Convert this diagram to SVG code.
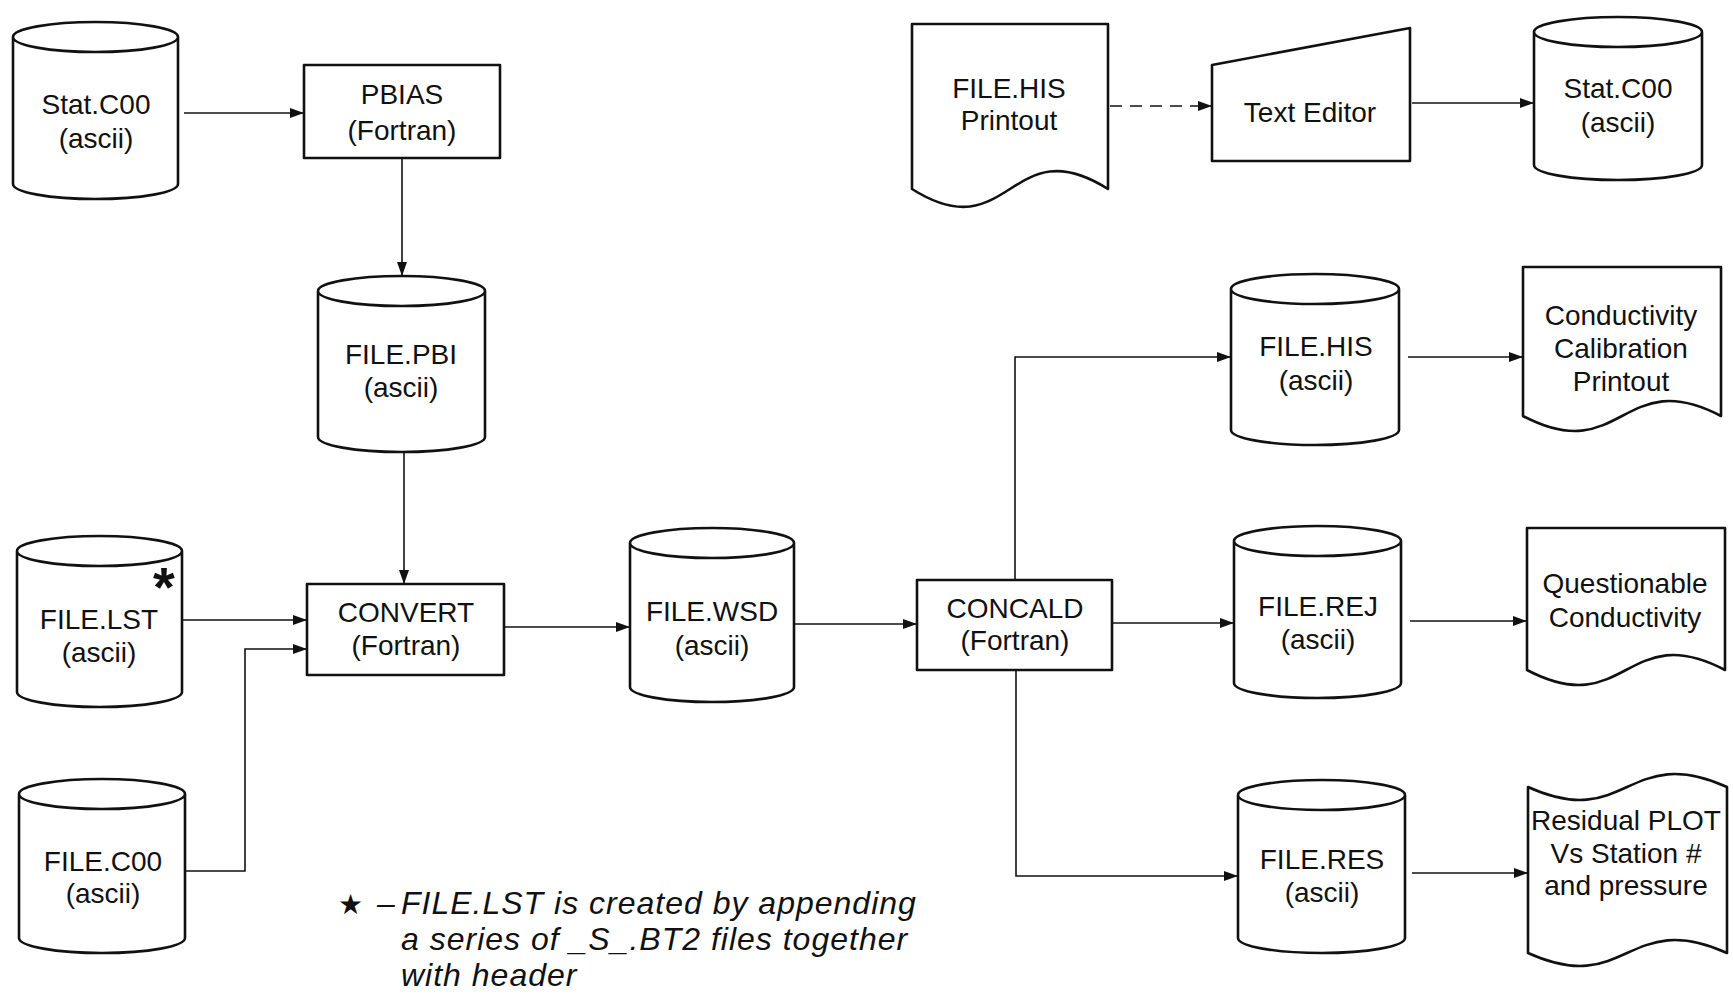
<svg xmlns="http://www.w3.org/2000/svg" width="1733" height="997" viewBox="0 0 1733 997">
  <style>
    .shape { fill: #fff; stroke: #111; stroke-width: 2.6; stroke-linejoin: round; }
    .edge { fill: none; stroke: #111; stroke-width: 1.6; }
    .dash { stroke-dasharray: 12 8; }
    .lbl { font-family: "Liberation Sans", Arial, sans-serif; font-size: 28px; fill: #111; text-anchor: middle; }
    .note { font-family: "Liberation Sans", Arial, sans-serif; font-size: 32px; font-style: italic; letter-spacing: 1px; fill: #111; }
  </style>
  <defs>
    <marker id="arrow" viewBox="0 0 14 10" refX="14" refY="5" markerWidth="14" markerHeight="10" markerUnits="userSpaceOnUse" orient="auto">
      <path d="M0,0 L14,5 L0,10 Z" fill="#111"/>
    </marker>
  </defs>
  <rect width="1733" height="997" fill="#fff"/>

  <!-- connectors -->
  <g id="connectors">
    <path class="edge" d="M184,113 H304" marker-end="url(#arrow)"/>
    <path class="edge" d="M402,158 V276" marker-end="url(#arrow)"/>
    <path class="edge" d="M404,452 V584" marker-end="url(#arrow)"/>
    <path class="edge" d="M182,620 H307" marker-end="url(#arrow)"/>
    <path class="edge" d="M185,871 H245 V649 H307" marker-end="url(#arrow)"/>
    <path class="edge" d="M504,627 H630" marker-end="url(#arrow)"/>
    <path class="edge" d="M794,624 H917" marker-end="url(#arrow)"/>
    <path class="edge" d="M1015,580 V357 H1231" marker-end="url(#arrow)"/>
    <path class="edge" d="M1112,623 H1234" marker-end="url(#arrow)"/>
    <path class="edge" d="M1016,670 V876 H1238" marker-end="url(#arrow)"/>
    <path class="edge" d="M1408,357 H1523" marker-end="url(#arrow)"/>
    <path class="edge" d="M1410,621 H1527" marker-end="url(#arrow)"/>
    <path class="edge" d="M1412,873 H1528" marker-end="url(#arrow)"/>
    <path class="edge dash" d="M1110,106 H1212" marker-end="url(#arrow)"/>
    <path class="edge" d="M1412,103 H1534" marker-end="url(#arrow)"/>
  </g>

  <!-- storage: Stat.C00 (left) -->
  <g id="stat-c00-in">
    <path class="shape" d="M13,37 A82.5,15 0 0 1 178,37 V184 A82.5,15 0 0 1 13,184 Z M13,37 A82.5,15 0 0 0 178,37"/>
    <text class="lbl" x="96" y="114">Stat.C00</text>
    <text class="lbl" x="96" y="148">(ascii)</text>
  </g>

  <!-- process: PBIAS -->
  <g id="pbias">
    <rect class="shape" x="304" y="65" width="196" height="93"/>
    <text class="lbl" x="402" y="104">PBIAS</text>
    <text class="lbl" x="402" y="140">(Fortran)</text>
  </g>

  <!-- storage: FILE.PBI -->
  <g id="file-pbi">
    <path class="shape" d="M318,291 A83.5,15 0 0 1 485,291 V437 A83.5,15 0 0 1 318,437 Z M318,291 A83.5,15 0 0 0 485,291"/>
    <text class="lbl" x="401" y="364">FILE.PBI</text>
    <text class="lbl" x="401" y="397">(ascii)</text>
  </g>

  <!-- storage: FILE.LST -->
  <g id="file-lst">
    <path class="shape" d="M17,551 A82.5,15 0 0 1 182,551 V692 A82.5,15 0 0 1 17,692 Z M17,551 A82.5,15 0 0 0 182,551"/>
    <text x="164" y="606" font-family="Liberation Sans, Arial, sans-serif" font-size="56" font-weight="bold" fill="#111" text-anchor="middle">*</text>
    <text class="lbl" x="99" y="629">FILE.LST</text>
    <text class="lbl" x="99" y="662">(ascii)</text>
  </g>

  <!-- process: CONVERT -->
  <g id="convert">
    <rect class="shape" x="307" y="584" width="197" height="91"/>
    <text class="lbl" x="406" y="622">CONVERT</text>
    <text class="lbl" x="406" y="655">(Fortran)</text>
  </g>

  <!-- storage: FILE.C00 -->
  <g id="file-c00">
    <path class="shape" d="M19,794 A83,15 0 0 1 185,794 V938 A83,15 0 0 1 19,938 Z M19,794 A83,15 0 0 0 185,794"/>
    <text class="lbl" x="103" y="871">FILE.C00</text>
    <text class="lbl" x="103" y="903">(ascii)</text>
  </g>

  <!-- storage: FILE.WSD -->
  <g id="file-wsd">
    <path class="shape" d="M630,543 A82,15 0 0 1 794,543 V687 A82,15 0 0 1 630,687 Z M630,543 A82,15 0 0 0 794,543"/>
    <text class="lbl" x="712" y="621">FILE.WSD</text>
    <text class="lbl" x="712" y="655">(ascii)</text>
  </g>

  <!-- process: CONCALD -->
  <g id="concald">
    <rect class="shape" x="917" y="580" width="195" height="90"/>
    <text class="lbl" x="1015" y="618">CONCALD</text>
    <text class="lbl" x="1015" y="650">(Fortran)</text>
  </g>

  <!-- storage: FILE.HIS -->
  <g id="file-his">
    <path class="shape" d="M1231,289 A84,15 0 0 1 1399,289 V430 A84,15 0 0 1 1231,430 Z M1231,289 A84,15 0 0 0 1399,289"/>
    <text class="lbl" x="1316" y="356">FILE.HIS</text>
    <text class="lbl" x="1316" y="390">(ascii)</text>
  </g>

  <!-- storage: FILE.REJ -->
  <g id="file-rej">
    <path class="shape" d="M1234,541 A83.5,15 0 0 1 1401,541 V683 A83.5,15 0 0 1 1234,683 Z M1234,541 A83.5,15 0 0 0 1401,541"/>
    <text class="lbl" x="1318" y="616">FILE.REJ</text>
    <text class="lbl" x="1318" y="649">(ascii)</text>
  </g>

  <!-- storage: FILE.RES -->
  <g id="file-res">
    <path class="shape" d="M1238,795 A83.5,15 0 0 1 1405,795 V938 A83.5,15 0 0 1 1238,938 Z M1238,795 A83.5,15 0 0 0 1405,795"/>
    <text class="lbl" x="1322" y="869">FILE.RES</text>
    <text class="lbl" x="1322" y="902">(ascii)</text>
  </g>

  <!-- document: calibration printout -->
  <g id="calibration-printout">
    <path class="shape" d="M1523,267 H1721 V416 C1622,364 1622,468 1523,416 Z"/>
    <text class="lbl" x="1621" y="325">Conductivity</text>
    <text class="lbl" x="1621" y="358">Calibration</text>
    <text class="lbl" x="1621" y="391">Printout</text>
  </g>

  <!-- document: questionable conductivity -->
  <g id="questionable">
    <path class="shape" d="M1527,528 H1725 V670 C1626,618 1626,722 1527,670 Z"/>
    <text class="lbl" x="1625" y="593">Questionable</text>
    <text class="lbl" x="1625" y="627">Conductivity</text>
  </g>

  <!-- punched tape: residual plot -->
  <g id="residual-plot">
    <path class="shape" d="M1528,787 C1627,832 1627,742 1727,787 V953 C1627,908 1627,998 1528,953 Z"/>
    <text class="lbl" x="1626" y="830">Residual PLOT</text>
    <text class="lbl" x="1626" y="863">Vs Station #</text>
    <text class="lbl" x="1626" y="895">and pressure</text>
  </g>

  <!-- document: FILE.HIS printout -->
  <g id="his-printout">
    <path class="shape" d="M912,24 H1108 V189 C1010,127 1010,251 912,189 Z"/>
    <text class="lbl" x="1009" y="98">FILE.HIS</text>
    <text class="lbl" x="1009" y="130">Printout</text>
  </g>

  <!-- manual input: text editor -->
  <g id="text-editor">
    <path class="shape" d="M1212,65 L1410,28 V161 H1212 Z"/>
    <text class="lbl" x="1310" y="122">Text Editor</text>
  </g>

  <!-- storage: Stat.C00 (right) -->
  <g id="stat-c00-out">
    <path class="shape" d="M1534,32 A84,15 0 0 1 1702,32 V165 A84,15 0 0 1 1534,165 Z M1534,32 A84,15 0 0 0 1702,32"/>
    <text class="lbl" x="1618" y="98">Stat.C00</text>
    <text class="lbl" x="1618" y="132">(ascii)</text>
  </g>

  <!-- footnote -->
  <g id="footnote">
    <text class="note" y="914"><tspan x="338" font-family="DejaVu Sans, sans-serif" font-style="normal" font-size="28" letter-spacing="0">★</tspan><tspan x="377">–</tspan><tspan x="401">FILE.LST is created by appending</tspan></text>
    <text class="note" x="401" y="950">a series of _S_.BT2 files together</text>
    <text class="note" x="401" y="986">with header</text>
  </g>
</svg>
